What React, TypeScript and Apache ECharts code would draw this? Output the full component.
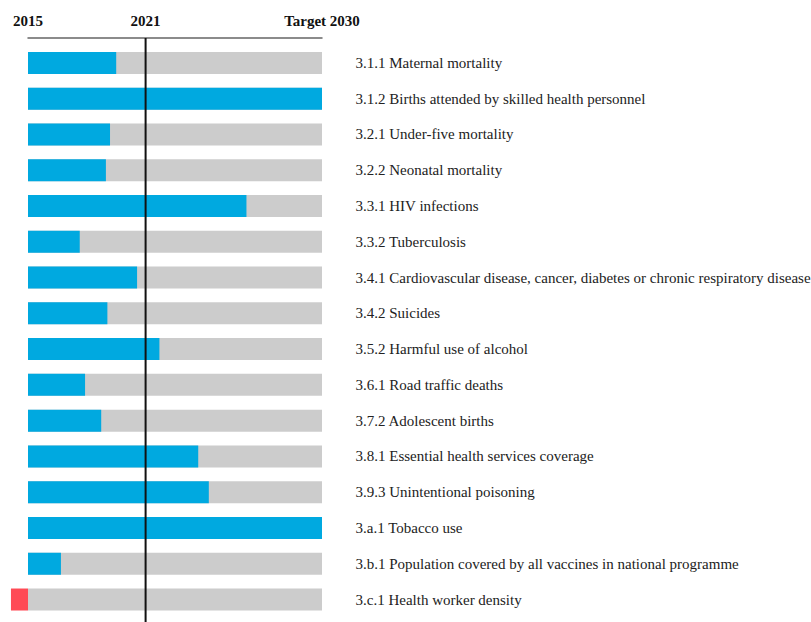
import React, { useEffect, useRef } from "react";
import * as echarts from "echarts";

const categories = [
  "3.1.1 Maternal mortality",
  "3.1.2 Births attended by skilled health personnel",
  "3.2.1 Under-five mortality",
  "3.2.2 Neonatal mortality",
  "3.3.1 HIV infections",
  "3.3.2 Tuberculosis",
  "3.4.1 Cardiovascular disease, cancer, diabetes or chronic respiratory disease",
  "3.4.2 Suicides",
  "3.5.2 Harmful use of alcohol",
  "3.6.1 Road traffic deaths",
  "3.7.2 Adolescent births",
  "3.8.1 Essential health services coverage",
  "3.9.3 Unintentional poisoning",
  "3.a.1 Tobacco use",
  "3.b.1 Population covered by all vaccines in national programme",
  "3.c.1 Health worker density",
];

// progress towards target (% of the way from 2015 to target 2030)
const progress: (number | null)[] = [
  30.0, 100, 27.9, 26.5, 74.3, 17.6, 37.1, 27.0, 44.7, 19.4, 24.9, 57.9, 61.5, 100, 11.2, null,
];
// moving away from target
const regress: (number | null)[] = [
  null, null, null, null, null, null, null, null, null, null, null, null, null, null, null, -5.8,
];

const tickValues = [0, 40, 100];
const tickLabels = ["2015", "2021", "Target 2030"];
const currentYearPosition = 40;

export default function App() {
  const ref = useRef<HTMLDivElement>(null);
  useEffect(() => {
    if (!ref.current) return;
    const chart = echarts.init(ref.current, undefined, { renderer: "svg" });
    const serif = "Liberation Serif";
    chart.setOption({
      animation: false,
      grid: { left: 28, width: 294, top: 45, bottom: 4.6, containLabel: false, outerBoundsMode: "none" },
      xAxis: {
        type: "value",
        position: "top",
        offset: 7,
        min: 0,
        max: 100,
        interval: 20,
        axisLine: { show: true, lineStyle: { color: "#666", width: 1.5 } },
        axisTick: { show: false },
        splitLine: { show: false },
        axisLabel: {
          showMinLabel: true,
          showMaxLabel: true,
          margin: 10,
          fontFamily: serif,
          fontWeight: "bold",
          fontSize: 15,
          color: "#111",
          formatter: (v: number) => {
            const i = tickValues.indexOf(v);
            return i >= 0 ? tickLabels[i] : "";
          },
        },
      },
      yAxis: {
        type: "category",
        inverse: true,
        position: "right",
        data: categories,
        axisLine: { show: false },
        axisTick: { show: false },
        axisLabel: {
          margin: 33.5,
          fontFamily: serif,
          fontSize: 15,
          color: "#222",
          align: "left",
        },
      },
      series: [
        {
          type: "bar",
          data: progress,
          barWidth: 22,
          barGap: "-100%",
          showBackground: true,
          backgroundStyle: { color: "#cccccc" },
          itemStyle: { color: "#00a9e0" },
        },
        {
          type: "bar",
          data: regress,
          barWidth: 22,
          barGap: "-100%",
          clip: false,
          itemStyle: { color: "#ff4a55" },
        },
      ],
    });
    const x = chart.convertToPixel({ xAxisIndex: 0 }, currentYearPosition) as number;
    chart.setOption({
      graphic: [
        {
          type: "line",
          z: 100,
          shape: { x1: x, y1: 38, x2: x, y2: 622 },
          style: { stroke: "#111", lineWidth: 2 },
        },
      ],
    });
    return () => chart.dispose();
  }, []);
  return (
    <div
      ref={ref}
      style={{ position: "absolute", left: 0, top: 0, width: 811, height: 622 }}
    />
  );
}
